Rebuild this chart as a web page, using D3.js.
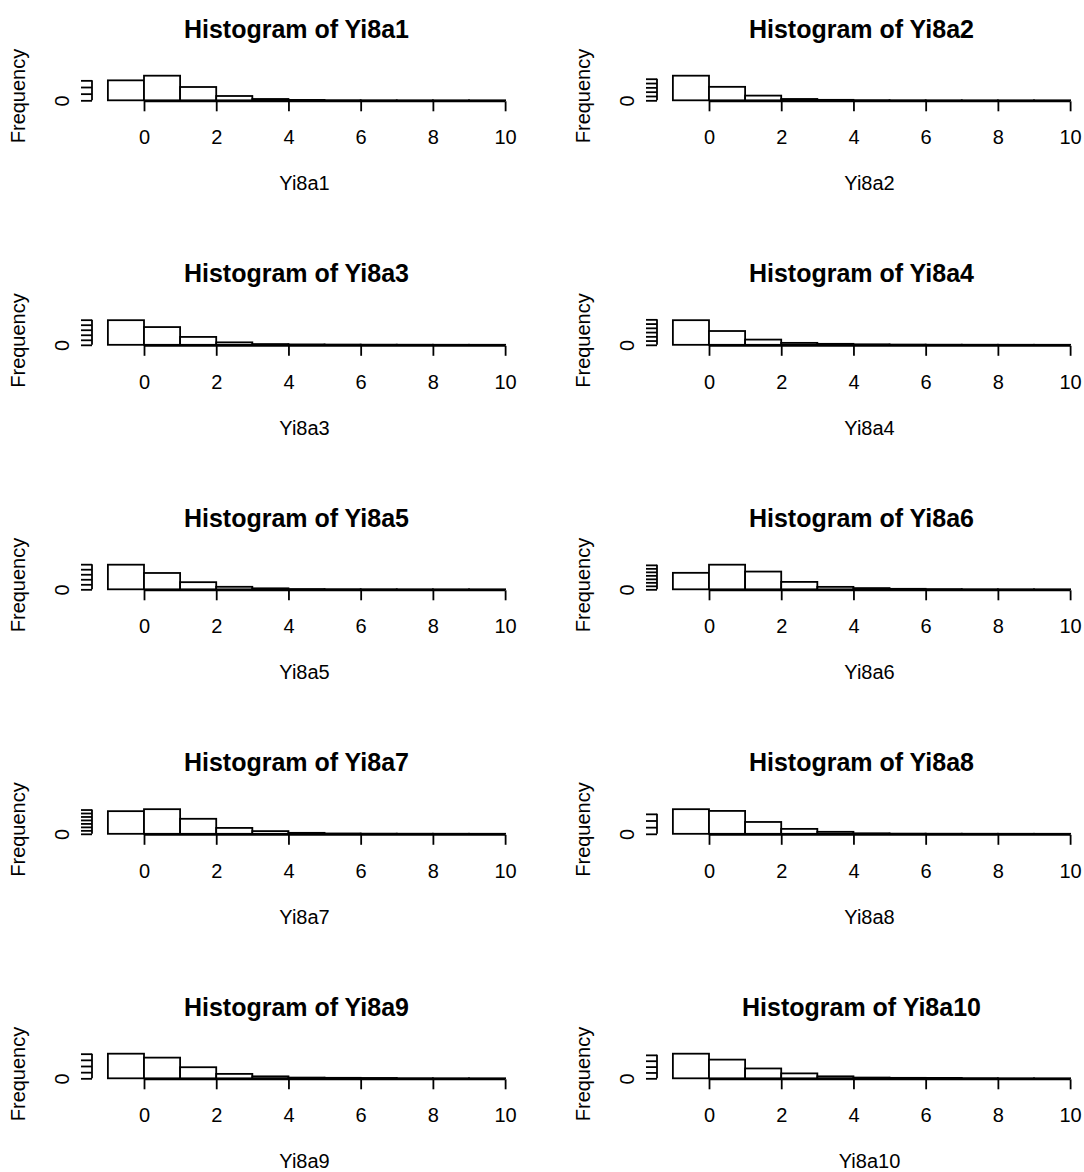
<!DOCTYPE html>
<html>
<head>
<meta charset="utf-8">
<script src="https://cdn.jsdelivr.net/npm/d3@7"></script>
<style>
  body { margin: 0; background: #fff; }
  text { font-family: "Liberation Sans", Arial, sans-serif; fill: #000; }
</style>
</head>
<body>
<div id="chart"></div>
<script>
// Histogram bins (break points) and x tick labels
const breaks = [-1, 0, 1, 2, 3, 4, 5, 6, 7, 8, 9, 10];
const xTicks = [0, 2, 4, 6, 8, 10];
const variables = ["Yi8a1", "Yi8a2", "Yi8a3", "Yi8a4", "Yi8a5",
                   "Yi8a6", "Yi8a7", "Yi8a8", "Yi8a9", "Yi8a10"];

// Frequencies per bin (estimated)
const Yi8a1  = [3000, 3700, 2000, 650, 200, 60, 20, 10, 5, 3, 2];
const Yi8a2  = [5700, 3120, 1090, 310, 110, 40, 20, 10, 5, 3, 2];
const Yi8a3  = [4900, 3530, 1570, 490, 150, 80, 50, 30, 20, 10, 5];
const Yi8a4  = [5800, 3250, 1230, 460, 230, 120, 60, 30, 20, 10, 5];
const Yi8a5  = [4900, 3250, 1420, 500, 200, 60, 30, 20, 10, 5, 3];
const Yi8a6  = [4720, 7050, 5080, 2120, 700, 350, 140, 70, 30, 20, 10];
const Yi8a7  = [6530, 7100, 4330, 1700, 780, 280, 100, 50, 30, 20, 10];
const Yi8a8  = [3700, 3440, 1780, 740, 300, 80, 30, 15, 10, 5, 3];
const Yi8a9  = [4000, 3360, 1800, 720, 320, 120, 80, 60, 20, 10, 5];
const Yi8a10 = [4200, 3190, 1680, 840, 340, 130, 80, 70, 30, 10, 5];

// y tick step for each panel
const yTickStep = [1000, 1000, 1000, 1000, 1000, 1000, 1000, 1000, 1000, 1000];

const series = [Yi8a1, Yi8a2, Yi8a3, Yi8a4, Yi8a5, Yi8a6, Yi8a7, Yi8a8, Yi8a9, Yi8a10];

// Layout
const W = 1084, H = 1172;
const colX = [0, 565];
const rowH = 244.5;
const plot = { left: 92, right: 521, top: 74.7, bottom: 101.3 };
const axisFont = 20, titleFont = 25, lw = 1.8, tickLen = 10;

const svg = d3.select("#chart").append("svg")
  .attr("width", W)
  .attr("height", H);

svg.append("rect")
  .attr("width", W)
  .attr("height", H)
  .style("fill", "#fff");

series.forEach((counts, i) => {
  const col = i % 2, row = Math.floor(i / 2);
  const g = svg.append("g")
    .attr("transform", `translate(${colX[col]}, ${row * rowH})`);

  const maxCount = d3.max(counts);
  const x = d3.scaleLinear()
    .domain([breaks[0] - 0.04 * 11, breaks[breaks.length - 1] + 0.04 * 11])
    .range([plot.left, plot.right]);
  const y = d3.scaleLinear()
    .domain([-0.04 * maxCount, 1.04 * maxCount])
    .range([plot.bottom, plot.top]);

  // bars
  const bins = counts.map((c, j) => ({ x0: breaks[j], x1: breaks[j + 1], n: c }));
  g.selectAll("rect.bar")
    .data(bins)
    .enter().append("rect")
    .attr("class", "bar")
    .attr("x", d => x(d.x0))
    .attr("width", d => x(d.x1) - x(d.x0))
    .attr("y", d => y(d.n))
    .attr("height", d => y(0) - y(d.n))
    .style("fill", "#fff")
    .style("stroke", "#000")
    .style("stroke-width", lw);

  // x axis
  const xa = g.append("g")
    .attr("transform", `translate(0, ${plot.bottom})`)
    .call(d3.axisBottom(x).tickValues(xTicks).tickSize(tickLen));
  xa.select(".domain").remove();
  xa.append("line")
    .attr("x1", x(xTicks[0]))
    .attr("x2", x(xTicks[xTicks.length - 1]))
    .attr("stroke", "#000")
    .attr("stroke-width", lw);
  xa.selectAll(".tick line").attr("stroke-width", lw);
  xa.selectAll("text")
    .attr("y", 36)
    .attr("dy", "0.35em")
    .style("font-size", axisFont + "px")
    .style("font-family", null);

  // y axis
  const yTicks = d3.range(0, 1.04 * maxCount + 1e-9, yTickStep[i]);
  const ya = g.append("g")
    .attr("transform", `translate(${plot.left}, 0)`)
    .call(d3.axisLeft(y).tickValues(yTicks).tickSize(tickLen + 1).tickFormat(d3.format("d")));
  ya.select(".domain").remove();
  ya.append("line")
    .attr("y1", y(yTicks[0]))
    .attr("y2", y(yTicks[yTicks.length - 1]))
    .attr("stroke", "#000")
    .attr("stroke-width", lw);
  ya.selectAll(".tick line").attr("stroke-width", lw);
  ya.selectAll("text")
    .attr("x", null)
    .attr("dy", "0.35em")
    .attr("text-anchor", "middle")
    .attr("transform", "translate(-30,0) rotate(-90)")
    .style("font-size", axisFont + "px")
    .style("font-family", null);

  // drop y labels that would overlap (as R does)
  let lastEdge = Infinity;
  ya.selectAll(".tick").each(function (d) {
    const t = d3.select(this).select("text");
    const half = t.node().getComputedTextLength() / 2;
    const cy = y(d);
    if (cy + half + 2 > lastEdge) t.remove();
    else lastEdge = cy - half;
  });

  // titles
  const cx = (plot.left + plot.right) / 2;
  g.append("text")
    .attr("x", cx - 10)
    .attr("y", 29)
    .attr("dy", "0.35em")
    .attr("text-anchor", "middle")
    .style("font-size", titleFont + "px")
    .style("font-weight", "bold")
    .text("Histogram of " + variables[i]);

  g.append("text")
    .attr("x", cx - 2)
    .attr("y", 183)
    .attr("dy", "0.35em")
    .attr("text-anchor", "middle")
    .style("font-size", axisFont + "px")
    .text(variables[i]);

  g.append("text")
    .attr("transform", `translate(18, 96) rotate(-90)`)
    .attr("dy", "0.35em")
    .attr("text-anchor", "middle")
    .style("font-size", axisFont + "px")
    .text("Frequency");
});
</script>
</body>
</html>
